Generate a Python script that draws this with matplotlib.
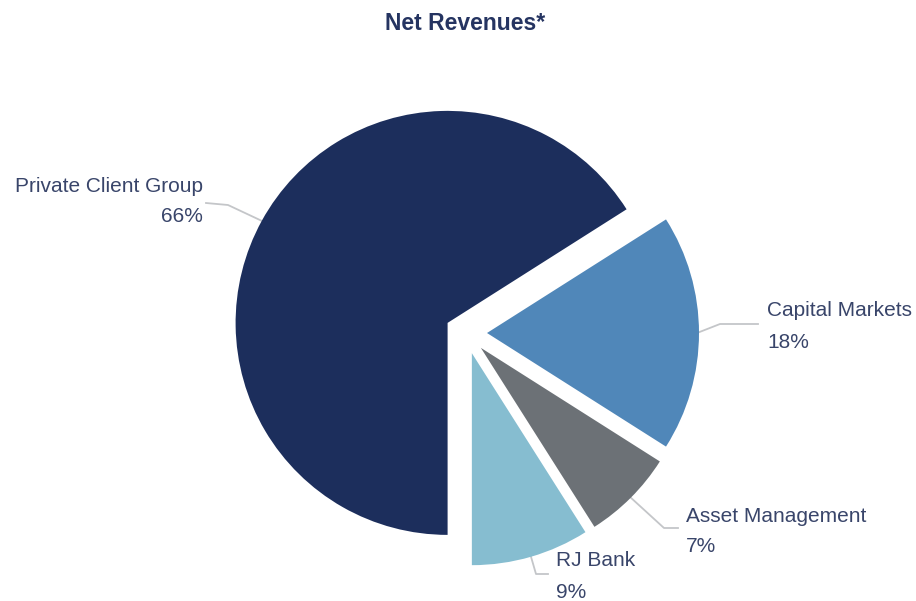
import matplotlib.pyplot as plt
import numpy as np

# data
segments = ["Private Client Group", "RJ Bank", "Asset Management", "Capital Markets"]
shares = [66, 9, 7, 18]
colors = ["#1c2e5c", "#86bdd0", "#6c7176", "#5087b9"]

# label anchor (x, y in pixels from top-left), alignment
label_pos = [(203, 186, "right"), (556, 561, "left"), (686, 516, "left"), (767, 311, "left")]
# leader line bend point + end point (pixels)
leader = [[(228, 205), (206, 203)],
          [(536, 574), (548, 574)],
          [(664, 528), (678, 528)],
          [(720, 324), (758, 324)]]

W, H = 916, 601
fig = plt.figure(figsize=(W / 100, H / 100), dpi=100)
ax = fig.add_axes([0, 0, 1, 1])

cx, cy, r = 466, H - 333, 212
gap = 21
wedges, _ = ax.pie(shares, colors=colors, startangle=32.4, counterclock=True,
                   explode=[gap] * 4, center=(cx, cy), radius=r,
                   wedgeprops=dict(linewidth=0))
ax.set_xlim(0, W)
ax.set_ylim(0, H)
ax.set_aspect("equal")
ax.axis("off")

txtcol = "#39456a"
linecol = "#c4c6c9"
for w, name, val, (lx, ly, ha), pts in zip(wedges, segments, shares, label_pos, leader):
    mid = np.deg2rad((w.theta1 + w.theta2) / 2)
    wx, wy = w.center
    rx = wx + (w.r - 2) * np.cos(mid)
    ry = wy + (w.r - 2) * np.sin(mid)
    xs = [rx] + [p[0] for p in pts]
    ys = [ry] + [H - p[1] for p in pts]
    ax.plot(xs, ys, color=linecol, lw=1.3, zorder=0)
    ax.text(lx, H - ly, name, ha=ha, va="center", fontsize=15,
            family="Liberation Sans", color=txtcol)
    ax.text(lx, H - ly - 31, f"{val}%", ha=ha, va="center", fontsize=15,
            family="Liberation Sans", color=txtcol)

ax.text(W / 2 + 7, H - 23, "Net Revenues*", ha="center", va="center", fontsize=16.5,
        fontweight="bold", family="Liberation Sans", color="#253461")

fig.savefig("out.png", dpi=100)
